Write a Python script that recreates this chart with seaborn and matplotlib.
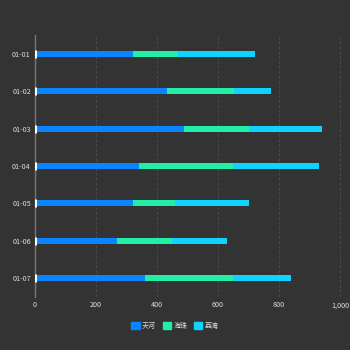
import matplotlib
matplotlib.use("Agg")
import matplotlib.pyplot as plt
import seaborn as sns
import pandas as pd
import numpy as np

dates = ["01-01", "01-02", "01-03", "01-04", "01-05", "01-06", "01-07"]
tianhe = [320, 433, 490, 340, 320, 270, 360]
haizhu = [150, 220, 210, 310, 140, 180, 290]
liwan = [250, 120, 240, 280, 240, 180, 190]
series_names = ["天河", "海珠", "荔湾"]
colors = ["#0a84ff", "#22eea8", "#10d2ff"]
xticks = [0, 200, 400, 600, 800, 1000]
xtick_labels = ["0", "200", "400", "600", "800", "1,000"]

sns.set_theme(style="dark")
plt.rcParams['font.family'] = ['Noto Sans CJK SC', 'DejaVu Sans']

bg = "#333333"
fig = plt.figure(figsize=(3.5, 3.5), dpi=100, facecolor=bg)
ax = fig.add_axes([35/350, 1 - 297/350, 306/350, 262/350])
ax.set_facecolor(bg)

df = pd.DataFrame({"date": dates, "t": tianhe, "h": haizhu, "l": liwan})
df["th"] = df["t"] + df["h"]
df["thl"] = df["th"] + df["l"]

for col, c in [("thl", colors[2]), ("th", colors[1]), ("t", colors[0])]:
    sns.barplot(data=df, x=col, y="date", orient="h", color=c, width=0.16,
                saturation=1, ax=ax, linewidth=0, zorder=3)

# white start markers
ax.scatter(np.zeros(len(dates)), np.arange(len(dates)), marker="|", s=30,
           linewidths=2.2, color="white", zorder=5)

ax.set_xlim(0, 1003)
ax.set_ylim(len(dates) - 0.5, -0.5)
ax.set_xticks(xticks)
ax.set_xticklabels(xtick_labels)
ax.set_xlabel("")
ax.set_ylabel("")
ax.tick_params(axis="both", colors="#dddddd", labelsize=5.2, length=0, pad=3)
ax.grid(axis="x", color="#4a4a4a", linestyle=(0, (3, 2)), linewidth=0.7, zorder=0)
ax.grid(axis="y", visible=False)
for s in ["top", "right", "bottom"]:
    ax.spines[s].set_visible(False)
ax.spines["left"].set_color("#777777")
ax.spines["left"].set_linewidth(1)
ax.spines["left"].set_zorder(4)

handles = [plt.Rectangle((0, 0), 1, 1, color=c) for c in colors]
fig.legend(handles, series_names, loc="center", bbox_to_anchor=(0.5, 1 - 326/350),
           ncol=3, frameon=False, fontsize=5, labelcolor="#dddddd",
           handlelength=1.2, handleheight=1.2, handletextpad=0.3, columnspacing=1.0)

fig.savefig("out.png", dpi=100, facecolor=bg)
